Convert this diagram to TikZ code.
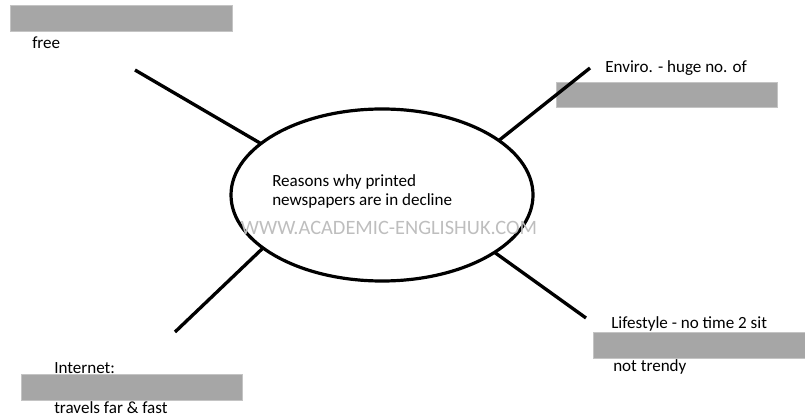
\documentclass[tikz,border=0pt]{standalone}
\usepackage{fontspec}
\setmainfont{Carlito}
\usetikzlibrary{shapes.geometric}
\definecolor{boxgray}{HTML}{A6A6A6}
\definecolor{boxedge}{HTML}{C4C4C4}
\definecolor{markgray}{HTML}{BEBEBE}

\begin{document}
\begin{tikzpicture}[x=0.75pt,y=-0.75pt,
    spoke/.style={line width=2.5pt},
    hidebox/.style={fill=boxgray,draw=boxedge,line width=0.6pt},
    note/.style={anchor=base west,inner sep=0pt,font=\fontsize{12.8}{14.6}\selectfont}]
  \useasboundingbox (0,0) rectangle (805,416);
  \filldraw[hidebox] (10,5) rectangle (232,31);
  \filldraw[hidebox] (556,82) rectangle (777,107);
  \filldraw[hidebox] (21,374) rectangle (242,400);
  \filldraw[hidebox] (593,332) rectangle (805,358);
  \node[ellipse,draw,line width=2.4pt,inner sep=0pt,outer sep=0pt,
        minimum width=226.5pt,minimum height=129pt] (hub) at (382,195) {};
  \node[note,align=left] (topic) at (272,206) {Reasons why printed\\newspapers are in decline};
  \node[anchor=base,inner sep=0pt,text=markgray,font=\fontsize{15.3}{17}\selectfont] (mark) at (389,235) {WWW.ACADEMIC-ENGLISHUK.COM};
  \coordinate (ulEnd) at (135,70);
  \coordinate (urEnd) at (590,68);
  \coordinate (llEnd) at (175,332);
  \coordinate (lrEnd) at (586,318);
  \draw[spoke] (hub.157) -- (ulEnd);
  \draw[spoke] (hub.25) -- (urEnd);
  \draw[spoke] (hub.204) -- (llEnd);
  \draw[spoke] (hub.333) -- (lrEnd);
  \node[note] (cost) at (32,49) {free};
  \node[note] (enviro) at (605,73) {Enviro. - huge no. of};
  \node[note] (internet) at (54,373) {Internet:};
  \node[note] (speed) at (54,413) {travels far \& fast};
  \node[note] (life) at (611,328) {Lifestyle - no time 2 sit};
  \node[note] (trend) at (613,371) {not trendy};
\end{tikzpicture}
\end{document}
